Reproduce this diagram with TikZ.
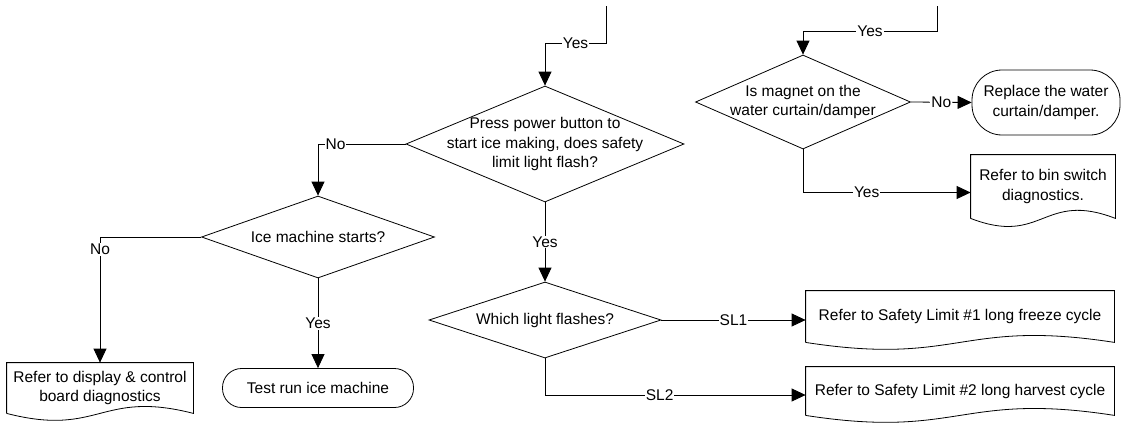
\documentclass[tikz,border=0pt]{standalone}
\usepackage{fontspec}
\setmainfont{Liberation Sans}
\usetikzlibrary{shapes.geometric,arrows.meta,calc}

\begin{document}
\begin{tikzpicture}[x=1pt,y=-1pt,
  font=\fontsize{15.5}{19.5}\selectfont,
  line width=0.8pt,
  decision/.style={diamond,draw,inner sep=0pt},
  qtext/.style={align=center,inner sep=0pt},
  docbox/.style={rectangle,align=center,inner sep=0pt},
  terminal/.style={rectangle,draw,rounded corners=19pt,align=center,inner sep=0pt},
  arr/.style={-{Triangle[length=14pt,width=13pt]}},
  lbl/.style={fill=white,inner sep=1pt}]
  \useasboundingbox (0,0) rectangle (1123,423);

  % Decisions
  \node[decision,minimum width=278pt,minimum height=116pt,
    label={[qtext]center:{Press power button to\\start ice making, does safety\\limit light flash?}}] (power) at (545,144) {};
  \node[decision,minimum width=233pt,minimum height=82pt,
    label={[qtext]center:{Ice machine starts?}}] (starts) at (318,237) {};
  \node[decision,minimum width=232pt,minimum height=76pt,
    label={[qtext]center:{Which light flashes?}}] (which) at (545,320) {};
  \node[decision,minimum width=215pt,minimum height=94pt,
    label={[qtext]center:{Is magnet on the\\water curtain/damper}}] (magnet) at (803,102) {};

  % Terminals
  \node[terminal,minimum width=191pt,minimum height=39pt] (testrun) at (318,388) {Test run ice machine};
  \node[terminal,rounded corners=30pt,minimum width=148pt,minimum height=65pt] (replace) at (1046,102.5) {Replace the water\\curtain/damper.};

  % Documents
  \node[docbox,minimum width=186pt,minimum height=50pt] (display) at (100,388) {Refer to display \& control\\board diagnostics};
  \node[docbox,minimum width=144pt,minimum height=63pt] (bin) at (1043,186.5) {Refer to bin switch\\diagnostics.};
  \node[docbox,minimum width=308pt,minimum height=51pt] (limit1) at (960,316.5) {Refer to Safety Limit \#1 long freeze cycle};
  \node[docbox,minimum width=308pt,minimum height=48pt] (limit2) at (960,391) {Refer to Safety Limit \#2 long harvest cycle};

  \draw (display.south west) -- (display.north west) -- (display.north east) -- (display.south east)
    .. controls ($(display.south)+(0,-24)$) and ($(display.south)+(0,24)$) .. (display.south west);
  \draw (bin.south west) -- (bin.north west) -- (bin.north east) -- (bin.south east)
    .. controls ($(bin.south)+(0,-28)$) and ($(bin.south)+(0,28)$) .. (bin.south west);
  \draw (limit1.south west) -- (limit1.north west) -- (limit1.north east) -- (limit1.south east)
    .. controls ($(limit1.south)+(0,-24)$) and ($(limit1.south)+(0,24)$) .. (limit1.south west);
  \draw (limit2.south west) -- (limit2.north west) -- (limit2.north east) -- (limit2.south east)
    .. controls ($(limit2.south)+(0,-24)$) and ($(limit2.south)+(0,24)$) .. (limit2.south west);

  % Incoming lines
  \coordinate (in1) at (606,6);
  \coordinate (in2) at (937,6);

  % Connectors
  \draw[arr] (in1) -- ++(0,37) -| node[lbl,pos=0.25] (y1) {Yes} (power.north);
  \draw[arr] (power.west) -| node[lbl,pos=0.4] (n1) {No} (starts.north);
  \draw[arr] (starts.west) -| node[lbl,pos=0.55] (n2) {No} (display.north);
  \draw[arr] (starts.south) -- node[lbl] (y2) {Yes} (testrun.north);
  \draw[arr] (power.south) -- node[lbl] (y3) {Yes} (which.north);
  \draw[arr] (which.east) -- node[lbl] (s1) {SL1} (which.east -| limit1.west);
  \draw[arr] (which.south) |- node[lbl,pos=0.72] (s2) {SL2} ([yshift=-4pt]limit2.west);
  \draw[arr] (in2) -- ++(0,25) -| node[lbl,pos=0.25] (y4) {Yes} (magnet.north);
  \draw[arr] (magnet.east) -- node[lbl] (n3) {No} (replace.west);
  \draw[arr] (magnet.south) |- node[lbl,pos=0.69] (y5) {Yes} ([yshift=-6pt]bin.west);
\end{tikzpicture}
\end{document}
